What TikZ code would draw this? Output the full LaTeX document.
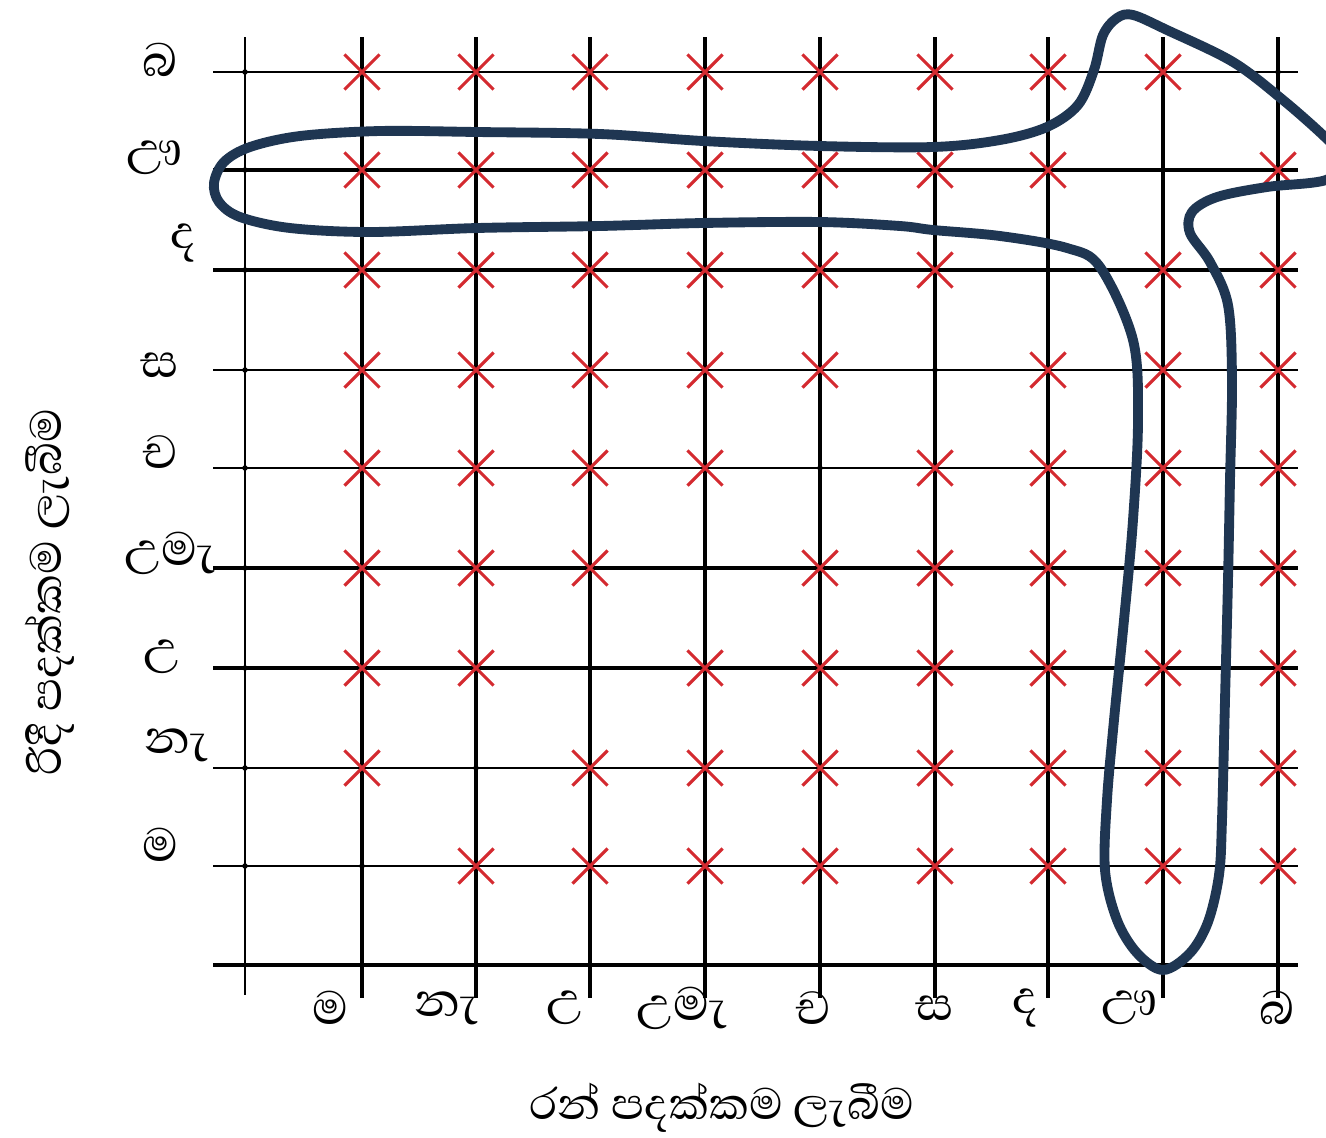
\documentclass[tikz,border=0pt]{standalone}
\usepackage{fontspec}
\usetikzlibrary{shapes.misc}
\newfontfamily\sinhfont[Script=Sinhala]{Abhaya Libre}
\definecolor{loopblue}{HTML}{1F3652}
\definecolor{markred}{HTML}{D42A30}
\begin{document}
\begin{tikzpicture}[x=0.02cm,y=-0.02cm,
  gridthin/.style={line width=1.3pt,black},
  gridthick/.style={line width=2.1pt,black},
  xmk/.style={cross out,draw=markred,line width=1.8pt,minimum size=0.64cm,inner sep=0pt},
  dotnode/.style={circle,fill=black,inner sep=0pt,minimum size=0.11cm},
  lbl/.style={font=\sinhfont\fontsize{34}{38}\selectfont,inner sep=0pt},
  ttl/.style={font=\sinhfont\fontsize{32}{36}\selectfont,inner sep=0pt},
  loop/.style={draw=loopblue,line width=5.6pt}]
\useasboundingbox (0,0) rectangle (1326,1137);
\clip (0,0) rectangle (1326,1137);
% grid
\draw[gridthin] (245,37) -- (245,995);
\foreach \x in {362,476,590,705,820,935,1048,1163,1278}
  \draw[gridthick] (\x,37) -- (\x,998);
\foreach \y in {72,370,468,768,866}
  \draw[gridthin] (213,\y) -- (1298,\y);
\foreach \y in {170,270,568,668,965}
  \draw[gridthick] (213,\y) -- (1298,\y);
% dots on first column
\foreach [count=\r from 0] \y in {72,170,270,370,468,568,668,768,866}
  \node[dotnode] (d-\r-0) at (245,\y) {};
% marks and empty intersections
\foreach [count=\r from 0] \y in {72,170,270,370,468,568,668,768,866}
  \foreach [count=\c from 1] \x in {362,476,590,705,820,935,1048,1163,1278}{
    \pgfmathtruncatemacro{\s}{\r+\c}
    \ifnum\s=9
      \node[dotnode] (d-\r-\c) at (\x,\y) {};
    \else
      \node[xmk] (m-\r-\c) at (\x,\y) {};
    \fi
  }
% row labels
\node[lbl] (r0) at (160,60) {බ};
\node[lbl] (r1) at (155,158) {ඌ};
\node[lbl] (r2) at (183,243) {ද};
\node[lbl] (r3) at (160,365) {ස};
\node[lbl] (r4) at (160,452) {ච};
\node[lbl] (r5) at (170,553) {උමැ};
\node[lbl] (r6) at (162,657) {උ};
\node[lbl] (r7) at (177,745) {නැ};
\node[lbl] (r8) at (160,845) {ම};
% column labels
\node[lbl] (c1) at (330,1008) {ම};
\node[lbl] (c2) at (447,1008) {නැ};
\node[lbl] (c3) at (565,1008) {උ};
\node[lbl] (c4) at (682,1008) {උමැ};
\node[lbl] (c5) at (812,1008) {ච};
\node[lbl] (c6) at (935,1008) {ස};
\node[lbl] (c7) at (1025,1008) {ද};
\node[lbl] (c8) at (1130,1008) {ඌ};
\node[lbl] (c9) at (1277,1008) {බ};
% axis titles
\node[ttl] (xt) at (722,1108) {රන් පදක්කම ලැබීම};
\node[ttl,rotate=90] (yt) at (50,592) {රිදී පදක්කම ලැබීම};
% loop
\draw[loop] plot[smooth cycle,tension=0.55] coordinates {
 (214,183) (224,162) (250,147) (300,136) (380,131) (477,132) (600,134)
 (703,141) (820,146) (933,147) (1000,140) (1047,127) (1078,105) (1094,70)
 (1103,35) (1117,18) (1133,15) (1167,30) (1233,62) (1283,100) (1326,138)
 (1345,160) (1326,180) (1267,187) (1217,197) (1192,212) (1190,233) (1210,262)
 (1228,305) (1232,380) (1230,480) (1228,580) (1225,700) (1222,820) (1219,875)
 (1208,922) (1190,953) (1163,970) (1137,953) (1117,920) (1105,870)
 (1107,800) (1114,720) (1124,620) (1133,520) (1138,420) (1133,340) (1100,267)
 (1067,248) (1000,236) (933,230) (900,226) (820,222) (703,223) (600,226)
 (477,228) (370,232) (290,228) (240,217) (219,202)};
\end{tikzpicture}
\end{document}
